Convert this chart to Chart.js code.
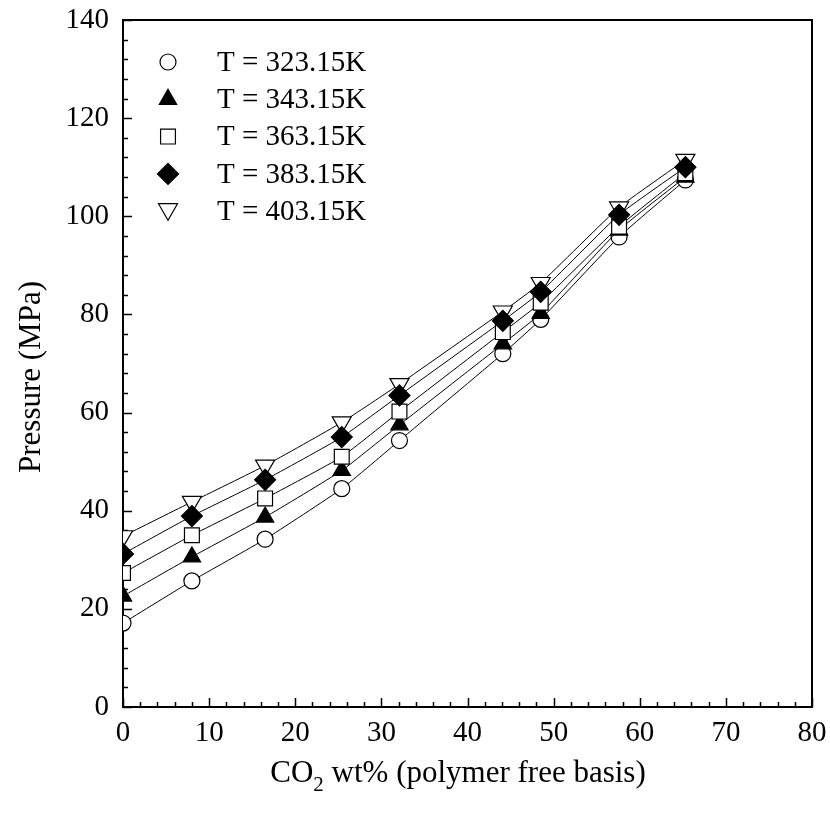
<!DOCTYPE html>
<html>
<head>
<meta charset="utf-8">
<script src="https://cdn.jsdelivr.net/npm/chart.js@4/dist/chart.umd.min.js"></script>
<style>
html,body{margin:0;padding:0;background:#fff;}
canvas{display:block;}
</style>
</head>
<body>
<canvas id="c" width="830" height="817"></canvas>
<script>
// ---- data ----
const co2 = [0, 8, 16.5, 25.4, 32.1, 44.1, 48.5, 57.6, 65.3];
const seriesNames = ['T = 323.15K', 'T = 343.15K', 'T = 363.15K', 'T = 383.15K', 'T = 403.15K'];
const p323 = [17.1, 25.7, 34.2, 44.5, 54.3, 72.0, 79.0, 95.8, 107.4];
const p343 = [22.6, 30.6, 38.7, 48.2, 57.5, 74.0, 80.2, 97.2, 108.0];
const p363 = [27.3, 35.0, 42.5, 51.0, 60.2, 76.4, 82.4, 97.9, 108.8];
const p383 = [31.2, 38.9, 46.3, 55.0, 63.5, 78.7, 84.6, 100.3, 110.0];
const p403 = [34.8, 41.8, 49.2, 58.0, 65.8, 80.6, 86.4, 101.8, 111.5];
const xTickValues = [0, 10, 20, 30, 40, 50, 60, 70, 80];
const yTickValues = [0, 20, 40, 60, 80, 100, 120, 140];
const xTitleParts = ['CO', '2', ' wt% (polymer free basis)'];
const yTitle = 'Pressure (MPa)';

// ---- styling ----
const FONT = '"Liberation Serif", "Times New Roman", Times, serif';
const styles = [
  {pointStyle: 'circle',   rotation: 0,   radius: 8,  fill: '#ffffff', order: 5},
  {pointStyle: 'triangle', rotation: 0,   radius: 10, fill: '#000000', order: 4},
  {pointStyle: 'rect',     rotation: 0,   radius: 10.5, fill: '#ffffff', order: 3},
  {pointStyle: 'rectRot',  rotation: 0,   radius: 10.5, fill: '#000000', order: 1},
  {pointStyle: 'triangle', rotation: 180, radius: 11, fill: '#ffffff', order: 2}
];
const seriesValues = [p323, p343, p363, p383, p403];

const datasets = seriesValues.map((vals, i) => ({
  label: seriesNames[i],
  data: co2.map((x, k) => ({x: x, y: vals[k]})),
  borderColor: '#000',
  borderWidth: 1,
  tension: 0.15,
  fill: false,
  pointStyle: styles[i].pointStyle,
  pointRotation: styles[i].rotation,
  pointRadius: styles[i].radius,
  pointHoverRadius: styles[i].radius,
  pointBackgroundColor: styles[i].fill,
  pointBorderColor: '#000',
  pointBorderWidth: 1.2,
  order: styles[i].order
}));

const frame = {
  id: 'frame',
  beforeDatasetsDraw(chart) {
    const {ctx, chartArea: a, scales: {x, y}} = chart;
    ctx.save();
    ctx.strokeStyle = '#000';
    ctx.lineWidth = 1.5;
    ctx.beginPath();
    for (let v = 0; v <= 80; v += 2) {
      const px = Math.round(x.getPixelForValue(v)) + 0.5;
      const len = (v % 10 === 0) ? 9 : 5;
      ctx.moveTo(px, a.bottom); ctx.lineTo(px, a.bottom - len);
    }
    for (let v = 0; v <= 140; v += 4) {
      const py = Math.round(y.getPixelForValue(v)) + 0.5;
      const len = (v % 20 === 0) ? 9 : 5;
      ctx.moveTo(a.left, py); ctx.lineTo(a.left + len, py);
    }
    ctx.stroke();
    ctx.lineWidth = 2;
    ctx.strokeRect(a.left, a.top, a.right - a.left, a.bottom - a.top);
    ctx.restore();
  },
  afterDraw(chart) {
    const {ctx, chartArea: a} = chart;
    ctx.save();
    ctx.fillStyle = '#000';
    // x-axis title with subscript
    const big = '31px ' + FONT, small = '21px ' + FONT;
    ctx.font = big; const w0 = ctx.measureText(xTitleParts[0]).width;
    ctx.font = small; const w1 = ctx.measureText(xTitleParts[1]).width;
    ctx.font = big; const w2 = ctx.measureText(xTitleParts[2]).width;
    let tx = 458 - (w0 + w1 + w2) / 2;
    const base = a.bottom + 75;
    ctx.textBaseline = 'alphabetic'; ctx.textAlign = 'left';
    ctx.font = big; ctx.fillText(xTitleParts[0], tx, base); tx += w0;
    ctx.font = small; ctx.fillText(xTitleParts[1], tx, base + 9); tx += w1;
    ctx.font = big; ctx.fillText(xTitleParts[2], tx, base);
    // y-axis title
    ctx.translate(32, 377);
    ctx.rotate(-Math.PI / 2);
    ctx.textAlign = 'center'; ctx.textBaseline = 'middle';
    ctx.font = big;
    ctx.fillText(yTitle, 0, 0);
    ctx.restore();

    // legend
    ctx.save();
    chart.data.datasets.forEach((ds, i) => {
      const cy = a.top + 42 + i * 37.3;
      const cx = a.left + 45;
      ctx.fillStyle = ds.pointBackgroundColor;
      ctx.strokeStyle = '#000';
      ctx.lineWidth = 1.2;
      Chart.helpers.drawPoint(ctx, {
        pointStyle: ds.pointStyle, rotation: ds.pointRotation,
        radius: ds.pointRadius, borderWidth: 1.2
      }, cx, cy + (ds.pointRotation === 180 ? -2 : 0));
      ctx.fillStyle = '#000';
      ctx.font = '29px ' + FONT;
      ctx.textAlign = 'left'; ctx.textBaseline = 'middle';
      ctx.fillText(ds.label, a.left + 94, cy + 1);
    });
    ctx.restore();
  }
};

new Chart(document.getElementById('c'), {
  type: 'line',
  data: {datasets},
  options: {
    responsive: false,
    animation: false,
    events: [],
    layout: {padding: {left: 0, right: 18, top: 20, bottom: 0}},
    plugins: {legend: {display: false}, tooltip: {enabled: false}},
    scales: {
      x: {
        type: 'linear', min: 0, max: 80,
        afterBuildTicks: s => { s.ticks = xTickValues.map(v => ({value: v})); },
        afterFit: s => { s.height = 110; s.paddingLeft = 0; s.paddingRight = 0; },
        grid: {display: false, drawTicks: false},
        border: {display: false},
        ticks: {font: {family: FONT, size: 29}, color: '#000', padding: 9, maxRotation: 0, autoSkip: false}
      },
      y: {
        type: 'linear', min: 0, max: 140,
        afterBuildTicks: s => { s.ticks = yTickValues.map(v => ({value: v})); },
        afterFit: s => { s.width = 123; s.paddingTop = 0; s.paddingBottom = 0; },
        grid: {display: false, drawTicks: false},
        border: {display: false},
        ticks: {font: {family: FONT, size: 29}, color: '#000', padding: 14, autoSkip: false}
      }
    }
  },
  plugins: [frame]
});
</script>
</body>
</html>
